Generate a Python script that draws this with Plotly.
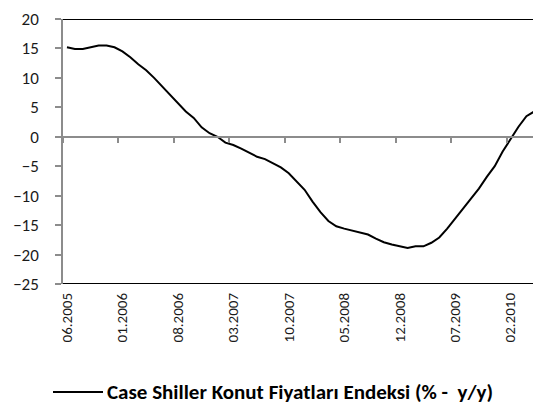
import plotly.graph_objects as go

# Monthly data, 06.2005 .. 07.2010 (y/y %)
months = [f"{(5 + i) % 12 + 1:02d}.{2005 + (5 + i) // 12}" for i in range(62)]
values = [15.2, 14.9, 14.9, 15.2, 15.5, 15.5, 15.2, 14.5, 13.5, 12.3,
          11.3, 10.0, 8.6, 7.2, 5.8, 4.3, 3.2, 1.6, 0.6, 0.0,
          -1.0, -1.4, -2.0, -2.7, -3.4, -3.8, -4.5, -5.2, -6.2, -7.6,
          -9.0, -11.0, -12.8, -14.3, -15.2, -15.6, -15.9, -16.3, -16.6, -17.3,
          -17.9, -18.3, -18.6, -18.9, -18.6, -18.6, -18.0, -17.1, -15.6, -13.8,
          -12.2, -10.5, -8.8, -6.8, -5.0, -2.5, -0.4, 1.7, 3.5, 4.3,
          4.35, 4.35]
series_name = "Case Shiller Konut Fiyatları Endeksi (% -\u00a0 y/y)"
tick_step = 7
y_ticks = [20, 15, 10, 5, 0, -5, -10, -15, -20, -25]

idx = list(range(len(months)))
label_idx = idx[::tick_step]
label_txt = [months[i] for i in label_idx]
FONT = "Carlito, Lato, sans-serif"

fig = go.Figure()
fig.add_trace(go.Scatter(x=idx, y=values, mode="lines", name=series_name,
                         showlegend=False, line=dict(color="black", width=2)))
# invisible trace for the zero-crossing category axis
fig.add_trace(go.Scatter(x=[idx[0]], y=[0], xaxis="x2", mode="lines",
                         showlegend=False, hoverinfo="skip",
                         line=dict(color="rgba(0,0,0,0)")))

xr = [-0.5, 60.85]
yr = [-25, 20]
fig.update_layout(
    width=541, height=418,
    margin=dict(l=55, r=0, t=11, b=142),
    paper_bgcolor="white", plot_bgcolor="white",
    font=dict(family=FONT, size=15, color="#1a1a1a"),
    xaxis=dict(range=xr, tickmode="array", tickvals=label_idx, ticktext=label_txt,
               tickangle=-90, showgrid=False, zeroline=False, showline=False,
               ticks="", ticklabelstandoff=5, tickfont=dict(size=15)),
    xaxis2=dict(range=xr, overlaying="x", anchor="free",
                position=(0 - yr[0]) / (yr[1] - yr[0]),
                tickmode="array", tickvals=[i - 0.5 for i in label_idx],
                showticklabels=False, ticks="outside", ticklen=5, tickwidth=1.5,
                tickcolor="#8c8c8c", showline=True, linecolor="#8c8c8c",
                linewidth=1.5, showgrid=False, zeroline=False),
    yaxis=dict(range=yr, tickmode="array", tickvals=y_ticks, showgrid=False,
               zeroline=False, showline=True, linecolor="#8c8c8c", linewidth=1.5,
               ticks="outside", ticklen=6, tickwidth=1.5, tickcolor="#8c8c8c",
               ticklabelstandoff=13, tickfont=dict(size=17)),
)
for yv in (yr[1], yr[0]):
    fig.add_shape(type="line", xref="paper", yref="y", x0=0, x1=1, y0=yv, y1=yv,
                  line=dict(color="black", width=2), layer="above")

# legend (line sample + bold label) below the category labels
plot_w = 541 - 55
plot_h = 418 - 11 - 142
leg_y = (276 - 384) / plot_h
fig.add_shape(type="line", xref="paper", yref="paper",
              x0=(45 - 55) / plot_w, x1=(95 - 55) / plot_w, y0=leg_y, y1=leg_y,
              line=dict(color="black", width=2))
fig.add_annotation(xref="paper", yref="paper", x=(97 - 55) / plot_w, y=leg_y,
                   xanchor="left", yanchor="middle", showarrow=False,
                   text="<b>" + series_name + "</b>",
                   font=dict(size=21, family=FONT, color="black"))

fig.write_html("out.html")
